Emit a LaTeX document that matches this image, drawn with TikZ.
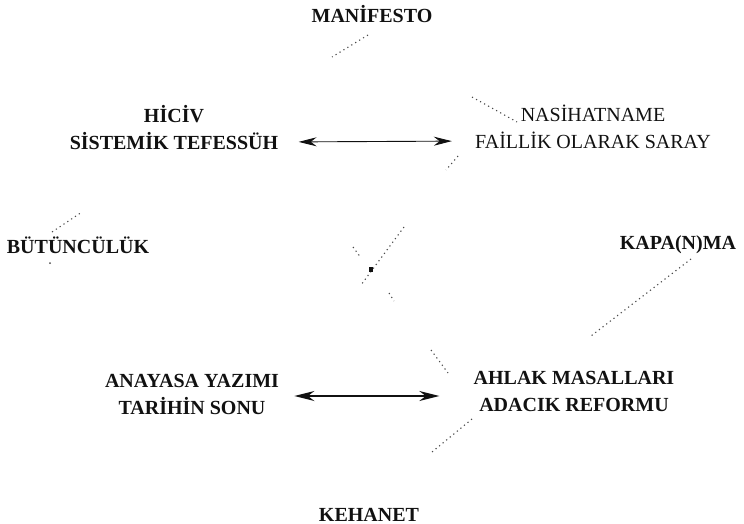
\documentclass[tikz,border=0pt]{standalone}
\usepackage{fontspec}
\setmainfont{Liberation Serif}
\usetikzlibrary{arrows.meta}
\definecolor{Soot}{HTML}{111111}
\definecolor{Ash}{HTML}{4A4A4A}

\begin{document}
\begin{tikzpicture}[x=0.5pt,y=-0.5pt,
    term/.style={font=\fontsize{10}{13.5}\selectfont\bfseries,text=Soot,align=center,inner sep=0pt},
    termlight/.style={font=\fontsize{10}{13.5}\selectfont,text=Soot,align=center,inner sep=0pt},
    faint/.style={Ash,line width=0.55pt,dash pattern=on 0.6pt off 1.7pt},
    thinlink/.style={Soot,line width=0.45pt,{Stealth[length=9pt,width=4.5pt]}-{Stealth[length=9pt,width=4.5pt]}},
    thicklink/.style={Soot,line width=1pt,{Stealth[length=10pt,width=5pt]}-{Stealth[length=10pt,width=5pt]}}]
    \useasboundingbox (0,0) rectangle (744,524);
    \node[term] (manifesto) at (372,14) {MANİFESTO};
    \node[term] (hiciv) at (174,128) {HİCİV\\SİSTEMİK TEFESSÜH};
    \node[termlight] (nasihat) at (593,127) {NASİHATNAME\\FAİLLİK OLARAK SARAY};
    \node[term] (butun) at (78,245) {BÜTÜNCÜLÜK};
    \node[term] (kapanma) at (678,245) {KAPA(N)MA};
    \node[term] (anayasa) at (192,394) {ANAYASA YAZIMI\\TARİHİN SONU};
    \node[term] (ahlak) at (574,391) {AHLAK MASALLARI\\ADACIK REFORMU};
    \node[term] (kehanet) at (369,515) {KEHANET};
    \draw[thinlink,shorten <=10pt,shorten >=11.5pt] ([yshift=-7pt]hiciv.east) -- ([yshift=-7pt]nasihat.west);
    \draw[thicklink,shorten <=7.5pt,shorten >=17pt] ([yshift=-1pt]anayasa.east) -- ([yshift=-2.5pt]ahlak.west);
    \coordinate (m1) at (368,35);
    \coordinate (m2) at (332,57);
    \coordinate (n1) at (472,97);
    \coordinate (n2) at (517,122);
    \coordinate (a1) at (458,156);
    \coordinate (a2) at (446,170);
    \coordinate (a3) at (404,227);
    \coordinate (a4) at (361,285);
    \coordinate (b1) at (353,247);
    \coordinate (b2) at (361,258);
    \coordinate (b3) at (389,293);
    \coordinate (b4) at (394,301);
    \coordinate (b5) at (431,350);
    \coordinate (b6) at (448,373);
    \coordinate (u1) at (52,232);
    \coordinate (u2) at (82,212);
    \coordinate (u3) at (50,263);
    \coordinate (k1) at (691,259);
    \coordinate (k2) at (591,336);
    \coordinate (h1) at (472,419);
    \coordinate (h2) at (432,452);
    \draw[faint] (m1) -- (m2);
    \draw[faint] (n1) -- (n2);
    \draw[faint] (a1) -- (a2);
    \draw[faint] (a3) -- (a4);
    \draw[faint] (b1) -- (b2);
    \draw[faint] (b3) -- (b4);
    \draw[faint] (b5) -- (b6);
    \draw[faint] (u1) -- (u2);
    \fill[Ash] (u3) circle (0.5pt);
    \draw[faint] (k1) -- (k2);
    \draw[faint] (h1) -- (h2);
    \fill[Soot] (369,267) rectangle (373,272);
\end{tikzpicture}
\end{document}
